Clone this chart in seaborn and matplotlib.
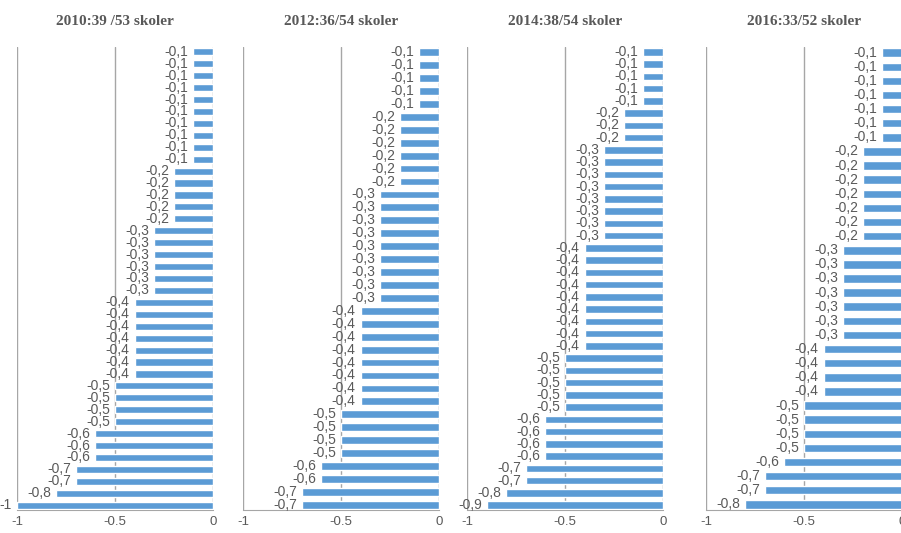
import pandas as pd
import seaborn as sns
import matplotlib.pyplot as plt

# data, one bar per school, top to bottom
titles = ["2010:39 /53 skoler", "2012:36/54 skoler", "2014:38/54 skoler", "2016:33/52 skoler"]

v2010 = [-0.1, -0.1, -0.1, -0.1, -0.1, -0.1, -0.1, -0.1, -0.1, -0.1,
         -0.2, -0.2, -0.2, -0.2, -0.2,
         -0.3, -0.3, -0.3, -0.3, -0.3, -0.3,
         -0.4, -0.4, -0.4, -0.4, -0.4, -0.4, -0.4,
         -0.5, -0.5, -0.5, -0.5,
         -0.6, -0.6, -0.6,
         -0.7, -0.7,
         -0.8,
         -1.0]
v2012 = [-0.1, -0.1, -0.1, -0.1, -0.1,
         -0.2, -0.2, -0.2, -0.2, -0.2, -0.2,
         -0.3, -0.3, -0.3, -0.3, -0.3, -0.3, -0.3, -0.3, -0.3,
         -0.4, -0.4, -0.4, -0.4, -0.4, -0.4, -0.4, -0.4,
         -0.5, -0.5, -0.5, -0.5,
         -0.6, -0.6,
         -0.7, -0.7]
v2014 = [-0.1, -0.1, -0.1, -0.1, -0.1,
         -0.2, -0.2, -0.2,
         -0.3, -0.3, -0.3, -0.3, -0.3, -0.3, -0.3, -0.3,
         -0.4, -0.4, -0.4, -0.4, -0.4, -0.4, -0.4, -0.4, -0.4,
         -0.5, -0.5, -0.5, -0.5, -0.5,
         -0.6, -0.6, -0.6, -0.6,
         -0.7, -0.7,
         -0.8,
         -0.9]
v2016 = [-0.1, -0.1, -0.1, -0.1, -0.1, -0.1, -0.1,
         -0.2, -0.2, -0.2, -0.2, -0.2, -0.2, -0.2,
         -0.3, -0.3, -0.3, -0.3, -0.3, -0.3, -0.3,
         -0.4, -0.4, -0.4, -0.4,
         -0.5, -0.5, -0.5, -0.5,
         -0.6,
         -0.7, -0.7,
         -0.8]

series = [v2010, v2012, v2014, v2016]
xticks = [-1, -0.5, 0]
xticklabels = ["-1", "-0.5", "0"]

sns.set_style("white")
plt.rcParams["font.family"] = ["Liberation Sans Narrow", "Liberation Sans", "DejaVu Sans"]

blue = "#5B9BD5"
grey = "#595959"
linec = "#A6A6A6"

fig = plt.figure(figsize=(9.01, 5.33), dpi=100)
lefts = [17, 243, 467, 706]  # pixel positions of x=-1 in each panel

for left, title, vals in zip(lefts, titles, series):
    ax = fig.add_axes([left / 901, 23 / 533, 196 / 901, 463 / 533])
    n = len(vals)
    df = pd.DataFrame({"skole": [str(k) for k in range(n)], "verdi": vals})
    sns.barplot(data=df, x="verdi", y="skole", orient="h", color=blue,
                saturation=1, width=0.6, ax=ax, zorder=3)
    ax.set_xlim(-1, 0)
    ax.set_ylim(n - 0.6, -0.4)
    ax.set_xticks(xticks)
    ax.set_xticklabels(xticklabels, color=grey, fontsize=9.5)
    ax.set_yticks([])
    ax.set_xlabel("")
    ax.set_ylabel("")
    for x in xticks:
        ax.axvline(x, color=linec, lw=1, zorder=0)
    for s in ["left", "top", "right"]:
        ax.spines[s].set_visible(False)
    ax.spines["bottom"].set_color(linec)
    ax.tick_params(axis="x", length=3, color=linec, pad=1.5)

    # value labels left of each bar end
    for k, v in enumerate(vals):
        txt = f"{v:.1f}".replace(".", ",")
        if v == -1.0:
            txt = "-1"
        ax.text(v - 0.025, k, txt, ha="right", va="center",
                fontsize=10, color=grey)

    ax.set_title(title, fontsize=11, fontweight="bold", color=grey,
                 family="Liberation Serif", pad=16)

fig.savefig("out.png", dpi=100)
